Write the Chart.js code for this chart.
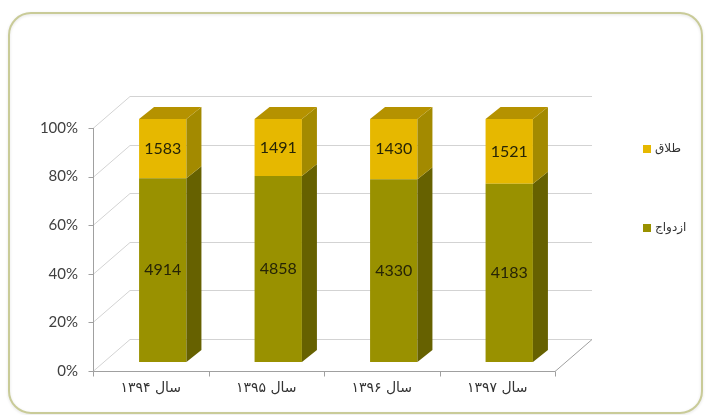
<!DOCTYPE html>
<html lang="fa">
<head>
<meta charset="utf-8">
<script src="https://cdn.jsdelivr.net/npm/chart.js@4.4.1/dist/chart.umd.min.js"></script>
<style>
  html, body { margin: 0; padding: 0; background: #fff; }
</style>
</head>
<body>
<canvas id="chartMarriage" width="708" height="415"></canvas>
<script>
// data
const years = ['سال ۱۳۹۴', 'سال ۱۳۹۵', 'سال ۱۳۹۶', 'سال ۱۳۹۷'];
const marriage = [4914, 4858, 4330, 4183];   // ازدواج
const divorce = [1583, 1491, 1430, 1521];    // طلاق
const yTicks = [0, 20, 40, 60, 80, 100];

// 100% stacked -> shares per year
const totals = marriage.map((m, i) => m + divorce[i]);
const marriagePct = marriage.map((m, i) => m / totals[i] * 100);
const divorcePct = divorce.map((d, i) => d / totals[i] * 100);

const colors = {
    marriage: { front: '#999100', side: '#666100' },
    divorce:  { front: '#e6b800', side: '#a38a00', top: '#b59200' }
};

// 3D look: bars sit a little inside the box
const OX = 12, OY = -9;     // bar shift from front plane
const DX = 37, DY = -32;    // box depth
const BDX = 15, BDY = -12;  // bar depth

const box3d = {
    id: 'box3d',
    beforeDraw(chart) {
        // rounded frame
        const ctx = chart.ctx;
        ctx.save();
        ctx.strokeStyle = '#c9cb98';
        ctx.lineWidth = 2;
        ctx.shadowColor = 'rgba(0,0,0,0.12)';
        ctx.shadowBlur = 3;
        ctx.shadowOffsetY = 1;
        ctx.beginPath();
        ctx.roundRect(9, 13, 693, 400, 22);
        ctx.stroke();
        ctx.restore();
    },
    beforeDatasetsDraw(chart) {
        const { ctx, chartArea: a, scales: { y } } = chart;
        ctx.save();
        ctx.lineWidth = 1;
        // back wall + side wall grid
        ctx.strokeStyle = '#d3d3d3';
        yTicks.forEach(t => {
            const py = Math.round(y.getPixelForValue(t)) + 0.5;
            ctx.beginPath();
            ctx.moveTo(a.left, py);
            ctx.lineTo(a.left + DX, py + DY);
            ctx.lineTo(a.right + DX, py + DY);
            ctx.stroke();
        });
        // front axis lines
        ctx.strokeStyle = '#a0a0a0';
        const lx = Math.round(a.left) + 0.5;
        const fy = Math.round(a.bottom) + 0.5;
        ctx.beginPath();
        ctx.moveTo(lx, a.top);
        ctx.lineTo(lx, fy);
        yTicks.forEach(t => {
            const py = Math.round(y.getPixelForValue(t)) + 0.5;
            ctx.moveTo(lx - 5, py);
            ctx.lineTo(lx, py);
        });
        ctx.moveTo(lx, fy);
        ctx.lineTo(a.right, fy);
        ctx.lineTo(a.right + DX, fy + DY);
        const step = (a.right - a.left) / years.length;
        for (let i = 0; i <= years.length; i++) {
            const px = Math.round(a.left + i * step) + 0.5;
            ctx.moveTo(px, fy);
            ctx.lineTo(px, fy + 5);
        }
        ctx.stroke();
        ctx.restore();

        ctx.save();
        ctx.translate(OX, OY);
    },
    afterDatasetsDraw(chart) {
        const ctx = chart.ctx;
        const sets = [colors.marriage, colors.divorce];
        chart.data.datasets.forEach((ds, di) => {
            const meta = chart.getDatasetMeta(di);
            meta.data.forEach(el => {
                const { x, y, base, width } = el.getProps(['x', 'y', 'base', 'width'], true);
                const l = x - width / 2, r = x + width / 2;
                // side face
                ctx.fillStyle = sets[di].side;
                ctx.beginPath();
                ctx.moveTo(r, y);
                ctx.lineTo(r + BDX, y + BDY);
                ctx.lineTo(r + BDX, base + BDY);
                ctx.lineTo(r, base);
                ctx.closePath();
                ctx.fill();
                // top face only on the upper segment
                if (di === chart.data.datasets.length - 1) {
                    ctx.fillStyle = sets[di].top;
                    ctx.beginPath();
                    ctx.moveTo(l, y);
                    ctx.lineTo(l + BDX, y + BDY);
                    ctx.lineTo(r + BDX, y + BDY);
                    ctx.lineTo(r, y);
                    ctx.closePath();
                    ctx.fill();
                }
            });
        });
        // value labels (raw counts)
        const raw = [marriage, divorce];
        ctx.fillStyle = '#262406';
        ctx.font = '16px Lato, sans-serif';
        ctx.textAlign = 'center';
        ctx.textBaseline = 'middle';
        chart.data.datasets.forEach((ds, di) => {
            chart.getDatasetMeta(di).data.forEach((el, i) => {
                const { x, y, base } = el.getProps(['x', 'y', 'base'], true);
                ctx.fillText(String(raw[di][i]), x, (y + base) / 2);
            });
        });
        ctx.restore();
    },
    afterDraw(chart) {
        // legend at right
        const ctx = chart.ctx;
        const items = [
            { text: 'طلاق', color: colors.divorce.front, y: 149 },
            { text: 'ازدواج', color: colors.marriage.front, y: 228 }
        ];
        ctx.save();
        ctx.font = '12px "DejaVu Sans", sans-serif';
        ctx.textBaseline = 'middle';
        ctx.textAlign = 'left';
        items.forEach(it => {
            ctx.fillStyle = it.color;
            ctx.fillRect(643, it.y - 4, 8, 8);
            ctx.fillStyle = '#333';
            ctx.fillText(it.text, 655, it.y);
        });
        ctx.restore();
    }
};

new Chart(document.getElementById('chartMarriage'), {
    type: 'bar',
    data: {
        labels: years,
        datasets: [
            { label: 'ازدواج', data: marriagePct, backgroundColor: colors.marriage.front, borderWidth: 0 },
            { label: 'طلاق', data: divorcePct, backgroundColor: colors.divorce.front, borderWidth: 0 }
        ]
    },
    options: {
        responsive: false,
        animation: false,
        layout: { padding: { left: 20, right: 153, top: 128, bottom: 0 } },
        datasets: { bar: { barPercentage: 0.41, categoryPercentage: 1 } },
        plugins: {
            legend: { display: false },
            tooltip: { enabled: false }
        },
        scales: {
            x: {
                stacked: true,
                grid: { display: false, drawTicks: false },
                border: { display: false },
                ticks: { color: '#333', padding: 9, font: { family: '"DejaVu Sans", sans-serif', size: 14 } },
                afterFit(s) { s.height = 44; }
            },
            y: {
                stacked: true,
                min: 0,
                max: 100,
                grid: { display: false, drawTicks: false },
                border: { display: false },
                ticks: {
                    stepSize: 20,
                    padding: 15,
                    color: '#404040',
                    font: { family: 'Lato, sans-serif', size: 15 },
                    callback: v => v + '%'
                },
                afterFit(s) { s.width = 73; }
            }
        }
    },
    plugins: [box3d]
});
</script>
</body>
</html>
